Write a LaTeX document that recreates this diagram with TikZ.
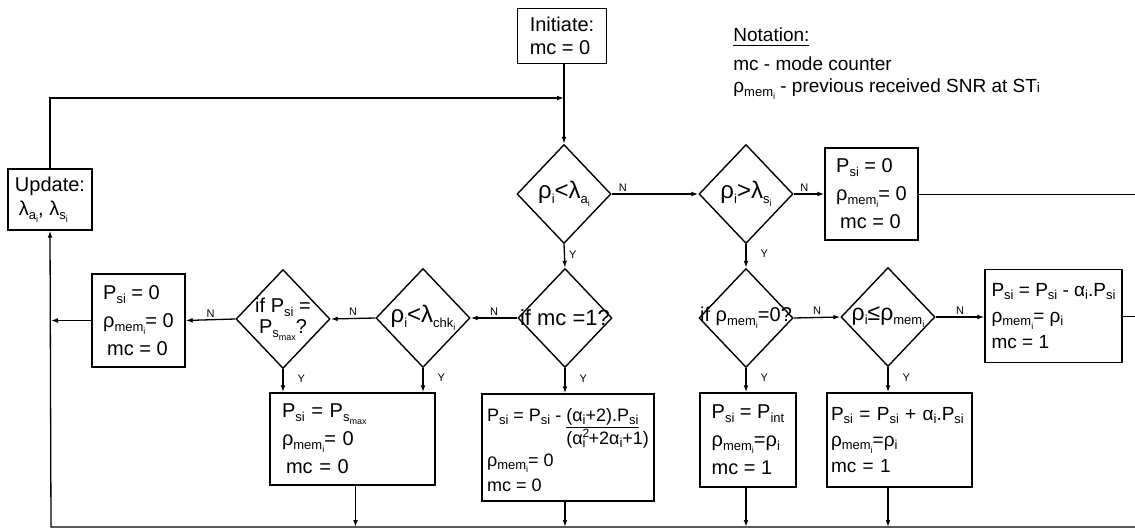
\documentclass[tikz,border=0pt]{standalone}
\usepackage{fontspec}
\setmainfont{Liberation Sans}
\usetikzlibrary{shapes.geometric,arrows.meta}
\newcommand{\sbs}[1]{\raisebox{-0.35ex}{\fontsize{6.5}{7}\selectfont #1}}
\newcommand{\ssbs}[1]{\raisebox{-0.45ex}{\fontsize{4.5}{5}\selectfont #1}}
\newcommand{\Psb}{P\sbs{si}}
\newcommand{\rmem}{ρ\sbs{mem\ssbs{i}}}
\newcommand{\rhoi}{ρ\sbs{i}}
\newcommand{\alfi}{α\sbs{i}}
\newcommand{\DiaT}[1]{\makebox[0pt]{#1}}

\begin{document}
\begin{tikzpicture}[x=0.5pt,y=-0.5pt]
  \tikzstyle{procbox} = [draw, line width=0.7pt, align=left, inner ysep=2pt,
    font=\fontsize{10}{14}\selectfont]
  \tikzstyle{decision} = [draw, diamond, line width=0.7pt, minimum width=47pt,
    minimum height=49.5pt, inner sep=0pt, font=\fontsize{11}{13}\selectfont]
  \tikzstyle{line} = [draw, -{Latex[length=3.5pt,width=2.4pt]}, line width=0.65pt]
  \tikzstyle{yn} = [font=\fontsize{5.5}{6}\selectfont, inner sep=1pt]
  \tikzstyle{notetext} = [anchor=base west, inner sep=0pt, font=\fontsize{9.5}{11}\selectfont]

  \useasboundingbox (0,0) rectangle (1135,529);

  % start and feedback
  \node(init)[procbox, minimum width=44.5pt, minimum height=27.5pt,
    font=\fontsize{10}{11.5}\selectfont] at (562,36) {Initiate:\\mc = 0};
  \node(update)[procbox, minimum width=42pt, minimum height=30.5pt, inner xsep=2pt,
    font=\fontsize{10}{12}\selectfont] at (50,199.5)
    {Update:\\\hspace*{2pt}λ\sbs{a\ssbs{i}}, λ\sbs{s\ssbs{i}}};

  % notation
  \node(notation)[notetext] at (733,42) {\underline{Notation:}};
  \node(notemc)[notetext] at (733,71) {mc - mode counter};
  \node(noterho)[notetext] at (733,93)
    {\rmem{} - previous received SNR at ST{\fontsize{7}{8}\selectfont i}};

  % decisions
  \node(d1)[decision, font=\fontsize{12}{14}\selectfont] at (564,194)
    {\DiaT{\rhoi<λ\sbs{a\ssbs{i}}}};
  \node(d2)[decision, font=\fontsize{12}{14}\selectfont] at (746,194)
    {\DiaT{\rhoi>λ\sbs{s\ssbs{i}}}};
  \node(d3)[decision] at (565,318) {\DiaT{if mc =1?}};
  \node(d4)[decision, font=\fontsize{10}{12}\selectfont] at (746,318) {\DiaT{if \rmem=0?}};
  \node(d5)[decision, font=\fontsize{11.5}{13}\selectfont] at (888,317) {\DiaT{\rhoi≤\rmem}};
  \node(d6)[decision, font=\fontsize{12}{14}\selectfont] at (423,318)
    {\DiaT{\rhoi<λ\sbs{chk\ssbs{i}}}};
  \node(d7)[decision, font=\fontsize{10}{10}\selectfont] at (283,319)
    {\DiaT{\raisebox{-4pt}{\begin{tabular}{@{}c@{}}if \Psb{} =\\[0.5pt]
      P\sbs{s\ssbs{max}}?\end{tabular}}}};

  % actions
  \node(b0)[procbox, minimum width=46.5pt, minimum height=46pt] at (871.5,194)
    {\Psb{} = 0\\\rmem= 0\\\hspace*{2pt}mc = 0};
  \node(bdec)[procbox, minimum width=68.5pt, minimum height=46.5pt, inner xsep=2pt,
    font=\fontsize{9.5}{13}\selectfont] at (1053.5,316)
    {\Psb{} = \Psb{} - \alfi.\Psb\\\rmem= \rhoi\\mc = 1};
  \node(binc)[procbox, text width=68.5pt, inner xsep=2pt, minimum height=47pt,
    font=\fontsize{9.5}{13}\selectfont] at (899.5,440)
    {\Psb{}~=~\Psb{}~+~\alfi.\Psb\\\rmem=\rhoi\\mc~=~1};
  \node(bint)[procbox, minimum width=48pt, minimum height=47pt, inner xsep=2pt] at (748,440)
    {\Psb{} = P\sbs{int}\\\rmem=\rhoi\\mc = 1};
  \node(bfrac)[procbox, minimum width=83pt, minimum height=53.5pt, inner xsep=2.5pt,
    font=\fontsize{9}{12.5}\selectfont] at (568,447.5)
    {\Psb{} = \Psb{} - \begin{tabular}[t]{@{}l@{}}\underline{(\alfi+2).\Psb}\\[-1pt]
      (α\rlap{\raisebox{0.75ex}{\fontsize{6}{7}\selectfont 2}}\sbs{i}\,+2\alfi+1)\end{tabular}\\\rmem= 0\\mc = 0};
  \node(bmax)[procbox, text width=70.5pt, inner xsep=6pt, minimum height=46pt] at (352.5,439)
    {\Psb{}~=~P\sbs{s\ssbs{max}}\\\rmem= 0\\\hspace*{2pt}mc = 0};
  \node(bzero)[procbox, minimum width=46.5pt, minimum height=46.5pt] at (138.5,320.5)
    {\Psb{} = 0\\\rmem= 0\\\hspace*{2pt}mc = 0};

  \coordinate(join) at (564,98);
  \coordinate(botL) at (51,527);
  \coordinate(botR) at (1135,527);

  % connectors
  \draw[line] (d1.north |- init.south) -- (d1.north);
  \draw[line] (update.north) |- (join);
  \draw[line] (d1.east) -- node[yn, pos=0.13, above]{N} (d2.west);
  \draw[line] (d2.east) -- node[yn, pos=0.35, above]{N} (b0.west);
  \draw (b0.east) -- (b0.east -| botR);
  \draw[line] (d1.south) -- node[yn, pos=0.45, right=1pt]{Y} (d3.north);
  \draw[line] (d2.south) -- node[yn, pos=0.4, right=6pt]{Y} (d4.north);
  \draw[line] (d3.west) -- node[yn, above]{N} (d6.east);
  \draw[line] (d6.west) -- node[yn, above]{N} (d7.east);
  \draw[line] (d7.west) -- node[yn, above]{N} (bzero.east);
  \draw[line] (bzero.west) -- (bzero.west -| botL);
  \draw[line] (d4.east) -- node[yn, above]{N} (d5.west);
  \draw[line] (d5.east) -- node[yn, above]{N} (d5.east -| bdec.west);
  \draw (bdec.east) -- (bdec.east -| botR);
  \draw[line] (d3.south) -- node[yn, pos=0.4, right=6pt]{Y} (d3.south |- bfrac.north);
  \draw[line] (d4.south) -- node[yn, pos=0.4, right=6pt]{Y} (d4.south |- bint.north);
  \draw[line] (d5.south) -- node[yn, pos=0.4, right=6pt]{Y} (d5.south |- binc.north);
  \draw[line] (d6.south) -- node[yn, pos=0.4, right=6pt]{Y} (d6.south |- bmax.north);
  \draw[line] (d7.south) -- node[yn, pos=0.4, right=6pt]{Y} (d7.south |- bmax.north);
  \draw[line] ([xshift=1.5pt]bmax.south) -- ([xshift=1.5pt]bmax.south |- botL);
  \draw[line] (d3.south |- bfrac.south) -- (d3.south |- botL);
  \draw[line] (d4.south |- bint.south) -- (d4.south |- botL);
  \draw[line] (d5.south |- binc.south) -- (d5.south |- botL);
  \draw[line] (botR) -- (botL) -- (update.south);
\end{tikzpicture}
\end{document}
